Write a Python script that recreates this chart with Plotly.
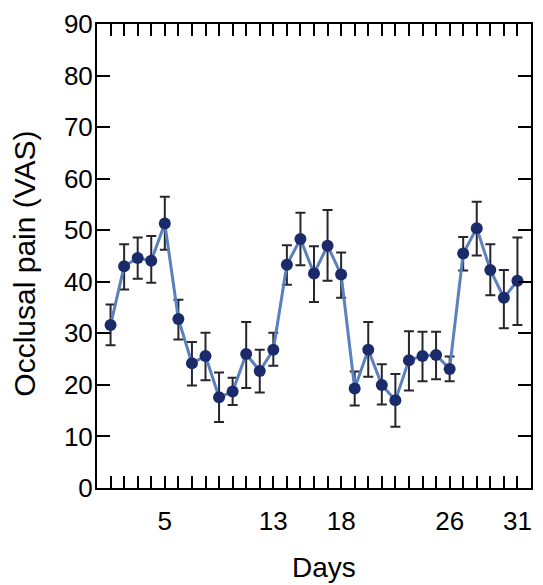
import plotly.graph_objects as go

days = list(range(1, 32))
pain_mean = [31.6, 43.0, 44.6, 44.1, 51.3, 32.8, 24.2, 25.6, 17.6, 18.7, 26.0, 22.7, 26.8, 43.3, 48.3,
             41.6, 47.0, 41.4, 19.3, 26.8, 20.0, 17.0, 24.8, 25.6, 25.8, 23.1, 45.5, 50.4, 42.3, 36.9, 40.2]
err_up = [4.0, 4.3, 4.0, 4.8, 5.2, 3.7, 4.1, 4.5, 4.8, 2.7, 6.2, 4.1, 3.3, 3.8, 5.1,
          5.3, 6.9, 4.3, 3.3, 5.4, 4.0, 5.1, 5.6, 4.7, 4.5, 2.4, 3.2, 5.1, 5.0, 5.4, 8.4]
err_down = [3.9, 4.5, 4.0, 4.3, 5.1, 4.0, 4.3, 4.7, 4.8, 2.6, 6.6, 4.2, 3.1, 3.9, 5.1,
            5.5, 6.8, 4.5, 3.3, 5.2, 3.8, 5.1, 5.9, 4.9, 4.7, 2.4, 3.3, 5.3, 4.9, 5.9, 8.6]
labeled_days = [5, 13, 18, 26, 31]
x_ticktext = [str(d) if d in labeled_days else "" for d in days]
y_ticks = list(range(0, 91, 10))

font_family = "Liberation Sans, Arial, sans-serif"

fig = go.Figure()
fig.add_trace(go.Scatter(
    x=days, y=pain_mean, mode="lines+markers",
    line=dict(color="#5a80bd", width=3),
    marker=dict(color="#1b2a6b", size=12),
    error_y=dict(type="data", symmetric=False, array=err_up, arrayminus=err_down,
                 color="#26262e", thickness=2, width=5),
    showlegend=False,
))

# the page body adds an 8px offset, so the figure is sized to fit the 543x585 window
fig.update_layout(
    width=535, height=577,
    margin=dict(l=89, r=12, t=16, b=97),
    paper_bgcolor="white", plot_bgcolor="white",
    font=dict(family=font_family, color="black"),
    annotations=[
        dict(text="Days", xref="paper", yref="paper", x=0.523, y=-0.172,
             xanchor="center", yanchor="middle", showarrow=False,
             font=dict(size=28, family=font_family, color="black")),
        dict(text="Occlusal pain (VAS)", xref="paper", yref="paper", x=-0.1665, y=0.483,
             xanchor="center", yanchor="middle", textangle=-90, showarrow=False,
             font=dict(size=30, family=font_family, color="black")),
    ],
)
fig.update_xaxes(
    range=[0, 32], tickmode="array", tickvals=days, ticktext=x_ticktext,
    ticks="inside", ticklen=12, tickwidth=2, tickcolor="black",
    showline=True, linecolor="black", linewidth=2, mirror="ticks",
    showgrid=False, zeroline=False, automargin=False,
    tickfont=dict(size=26, family=font_family),
    ticklabelstandoff=9, ticklabeloverflow="allow",
)
fig.update_yaxes(
    range=[0, 90], tickmode="array", tickvals=y_ticks,
    ticks="inside", ticklen=13, tickwidth=2, tickcolor="black",
    showline=True, linecolor="black", linewidth=2, mirror="ticks",
    showgrid=False, zeroline=False, automargin=False,
    tickfont=dict(size=26, family=font_family),
    ticklabelstandoff=-3, ticklabeloverflow="allow",
)

fig.write_html("out.html")
